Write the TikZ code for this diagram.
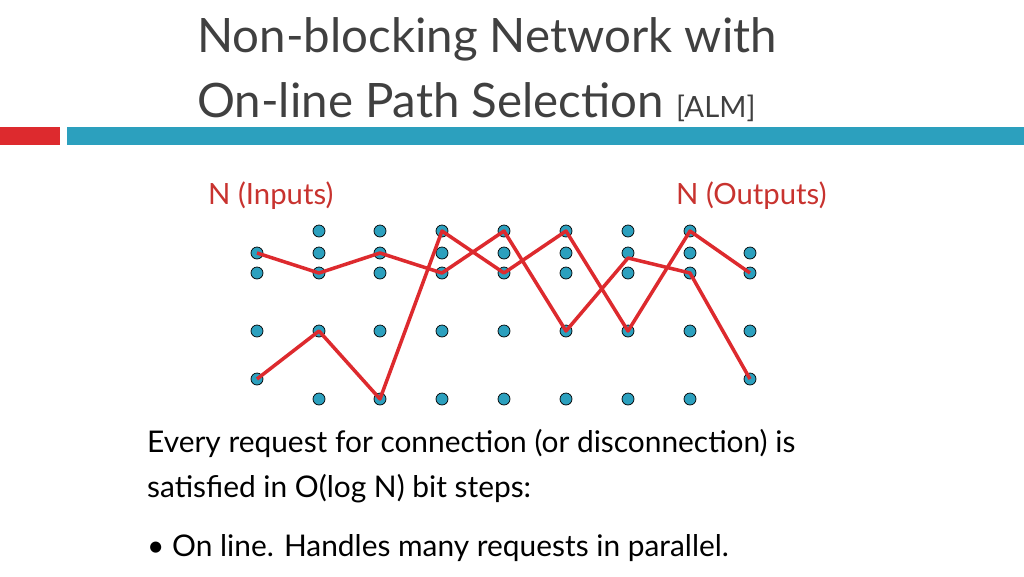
\documentclass[tikz,border=0pt]{standalone}
\usepackage{fontspec}
\setmainfont{Lato}
\definecolor{teal1}{HTML}{2CA0BE}
\definecolor{red1}{HTML}{DD2A2E}
\definecolor{txt}{HTML}{404040}
\definecolor{lbl}{HTML}{C8332F}
\begin{document}
\begin{tikzpicture}[x=0.03cm,y=-0.03cm,
  dot/.style={circle,draw=black,line width=0.6pt,fill=teal1,minimum size=0.36cm,inner sep=0},
  path1/.style={red1,line width=3pt,line join=round},
  body/.style={anchor=base west,text=black,font=\fontsize{25.5}{30}\selectfont,inner sep=0}]
\useasboundingbox (0,0) rectangle (1024,576);
\fill[red1] (0,127) rectangle (60,145);
\fill[teal1] (67,127) rectangle (1024,145);
\node[anchor=base west,text=txt,inner sep=0,font=\fontsize{40.5}{46}\selectfont] (t1) at (197,52) {Non-blocking Network with};
\node[anchor=base west,text=txt,inner sep=0,font=\fontsize{40.5}{46}\selectfont] (t2) at (197,117) {On-line Path Selection {\fontsize{25}{30}\selectfont [ALM]}};
\node[anchor=base west,text=lbl,inner sep=0,font=\fontsize{25}{30}\selectfont] (li) at (208,204) {N (Inputs)};
\node[anchor=base west,text=lbl,inner sep=0,font=\fontsize{25}{30}\selectfont] (lo) at (676,204) {N (Outputs)};
\foreach \c/\x in {1/257,9/750} \foreach \r/\y in {b/253,c/273,d/331,e/379} \node[dot] (n\c\r) at (\x,\y) {};
\foreach \c/\x in {2/319,3/380,4/442,5/504,6/566,7/628,8/690} \foreach \r/\y in {a/231,b/253,c/273,d/331,f/399} \node[dot] (n\c\r) at (\x,\y) {};
\coordinate (k) at (628,258);
\draw[path1] (n1b.center) -- (n2c.center) -- (n3b.center) -- (n4c.center) -- (n5a.center) -- (n6d.center) -- (k) -- (n8c.center) -- (n9e.center);
\draw[path1] (n1e.center) -- (n2d.center) -- (n3f.center) -- (n4a.center) -- (n5c.center) -- (n6a.center) -- (n7d.center) -- (n8a.center) -- (n9c.center);
\node[body] (b1) at (147,452) {Every request for connection (or disconnection) is};
\node[body] (b2) at (147,497) {satisfied in O(log N) bit steps:};
\node[body] (b3) at (147,556) {\textbullet{} On line. Handles many requests in parallel.};
\end{tikzpicture}
\end{document}
